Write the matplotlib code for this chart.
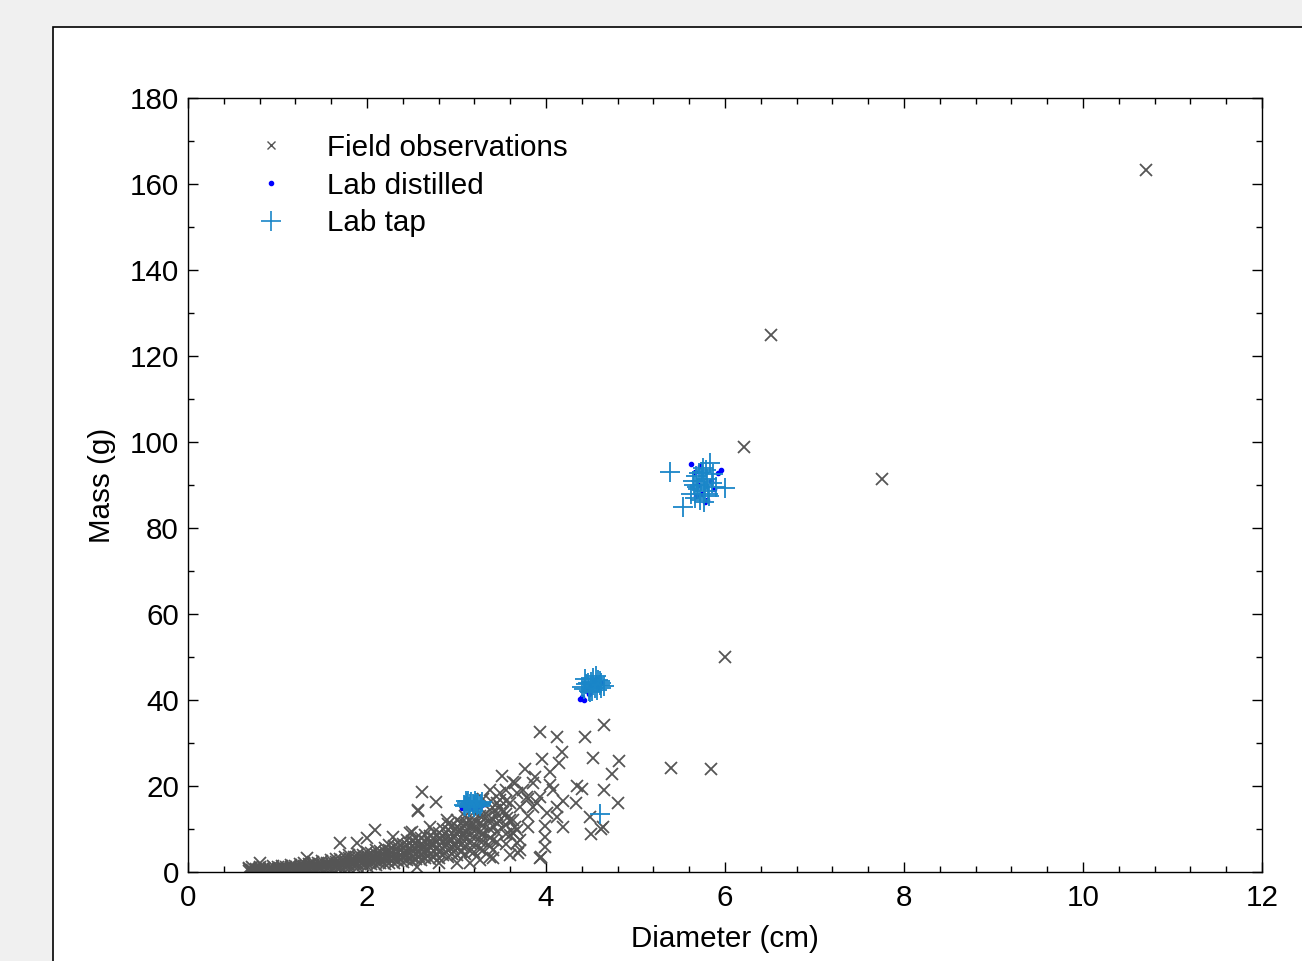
import matplotlib
matplotlib.use("Agg")
import matplotlib.pyplot as plt
from matplotlib.lines import Line2D
from matplotlib.patches import Rectangle
from matplotlib.ticker import MultipleLocator

plt.rcParams['font.family'] = ['Liberation Sans', 'DejaVu Sans']

# field observations: diameter (cm), mass (g)
field_d = [0.68, 0.68, 0.68, 0.72, 0.72, 0.72, 0.76, 0.76, 0.80, 0.80, 0.80, 0.80,
           0.85, 0.85, 0.90, 0.90, 0.90, 0.95, 0.95, 0.95, 1.00, 1.00, 1.00,
           1.05, 1.05, 1.05, 1.10, 1.10, 1.10, 1.15, 1.15, 1.15, 1.20, 1.20, 1.20,
           1.25, 1.25, 1.25, 1.30, 1.30, 1.30, 1.30, 1.33, 1.35, 1.35, 1.35,
           1.40, 1.40, 1.40, 1.40, 1.45, 1.45, 1.45, 1.50, 1.50, 1.50, 1.50,
           1.55, 1.55, 1.55, 1.60, 1.60, 1.60, 1.60, 1.65, 1.65, 1.65, 1.65,
           1.70, 1.70, 1.70, 1.70, 1.70, 1.75, 1.75, 1.75, 1.75,
           1.80, 1.80, 1.80, 1.80, 1.80, 1.85, 1.85, 1.85, 1.85, 1.89,
           1.90, 1.90, 1.90, 1.90, 1.90, 1.95, 1.95, 1.95, 1.95,
           2.00, 2.00, 2.00, 2.00, 2.00, 2.00, 2.05, 2.05, 2.05, 2.05, 2.09,
           2.10, 2.10, 2.10, 2.10, 2.10, 2.15, 2.15, 2.15, 2.15,
           2.20, 2.20, 2.20, 2.20, 2.20, 2.25, 2.25, 2.25, 2.25, 2.25, 2.29,
           2.30, 2.30, 2.30, 2.30, 2.30, 2.35, 2.35, 2.35, 2.35, 2.35,
           2.40, 2.40, 2.40, 2.40, 2.40, 2.45, 2.45, 2.45, 2.45, 2.45, 2.48,
           2.50, 2.50, 2.50, 2.50, 2.50, 2.50, 2.55, 2.55, 2.55, 2.55, 2.55,
           2.57, 2.57, 2.56, 2.60, 2.60, 2.60, 2.60, 2.60, 2.61,
           2.65, 2.65, 2.65, 2.65, 2.65, 2.70, 2.70, 2.70, 2.70, 2.70, 2.70,
           2.75, 2.75, 2.75, 2.75, 2.75, 2.77, 2.80, 2.80, 2.80, 2.80, 2.80, 2.80,
           2.85, 2.85, 2.85, 2.85, 2.85, 2.89, 2.90, 2.90, 2.90, 2.90, 2.90, 2.90,
           2.95, 2.95, 2.95, 2.95, 2.95, 3.00, 3.00, 3.00, 3.00, 3.00, 3.00, 3.00,
           3.05, 3.05, 3.05, 3.05, 3.05, 3.10, 3.10, 3.10, 3.10, 3.10, 3.10,
           3.15, 3.15, 3.15, 3.15, 3.15, 3.15, 3.20, 3.20, 3.20, 3.20, 3.20, 3.20,
           3.26, 3.26, 3.26, 3.26, 3.26, 3.26, 3.26, 3.30, 3.30, 3.30, 3.30, 3.30, 3.30,
           3.37, 3.37, 3.37, 3.37, 3.37, 3.37, 3.37, 3.41, 3.41, 3.41, 3.41, 3.43,
           3.45, 3.45, 3.45, 3.45, 3.45, 3.49, 3.49, 3.49, 3.51,
           3.55, 3.55, 3.55, 3.55, 3.55, 3.55, 3.56, 3.60, 3.60, 3.60, 3.60,
           3.63, 3.63, 3.63, 3.65, 3.65, 3.68, 3.68, 3.68, 3.69, 3.71, 3.71, 3.71,
           3.74, 3.77, 3.79, 3.80, 3.80, 3.80, 3.85, 3.85, 3.88, 3.90,
           3.93, 3.93, 3.93, 3.94, 3.96, 3.99, 3.99, 3.99, 4.01,
           4.04, 4.04, 4.08, 4.12, 4.12, 4.12, 4.15, 4.18, 4.19, 4.19,
           4.34, 4.35, 4.40, 4.44, 4.49, 4.50, 4.52, 4.61, 4.64, 4.65, 4.65,
           4.74, 4.80, 4.82,
           2.42, 2.52, 2.62, 2.72, 2.82, 2.92, 3.02, 3.12, 3.22, 3.32, 3.42,
           3.52, 2.58, 2.68, 2.78, 2.88, 2.98, 3.08, 3.18, 3.28, 3.38, 3.48,
           5.40, 5.84, 6.00, 6.21, 6.51, 7.75, 10.70]
field_m = [0.3, 0.6, 0.9, 0.2, 0.5, 1.1, 0.4, 0.8, 0.3, 0.7, 1.2, 2.0,
           0.5, 0.9, 0.2, 0.6, 1.0, 0.4, 0.8, 1.3, 0.3, 0.7, 1.1,
           0.5, 1.0, 1.5, 0.2, 0.8, 1.2, 0.6, 1.1, 1.6, 0.4, 0.9, 1.4,
           0.7, 1.2, 1.8, 0.5, 1.0, 1.5, 2.1, 3.3, 0.8, 1.3, 1.9,
           0.6, 1.1, 1.7, 2.3, 0.9, 1.5, 2.0, 0.7, 1.3, 1.8, 2.5,
           1.0, 1.6, 2.2, 0.8, 1.4, 2.0, 2.8, 1.1, 1.7, 2.4, 3.1,
           0.9, 1.5, 2.2, 3.0, 6.7, 1.2, 1.9, 2.6, 3.4,
           1.0, 1.7, 2.4, 3.2, 4.0, 1.4, 2.1, 2.9, 3.6, 6.7,
           1.2, 1.9, 2.7, 3.5, 4.3, 1.6, 2.4, 3.2, 4.0,
           1.4, 2.2, 3.0, 3.8, 4.7, 7.9, 1.8, 2.6, 3.5, 4.4, 9.8,
           1.6, 2.5, 3.3, 4.2, 5.1, 2.0, 2.9, 3.8, 4.8,
           1.8, 2.7, 3.6, 4.6, 5.6, 2.2, 3.2, 4.1, 5.2, 6.3, 8.1,
           2.0, 3.0, 4.0, 5.0, 6.0, 2.5, 3.5, 4.6, 5.7, 6.8,
           2.3, 3.3, 4.4, 5.5, 6.6, 2.8, 3.9, 5.0, 6.2, 7.4, 9.1,
           2.5, 3.6, 4.8, 6.0, 7.2, 9.3, 3.0, 4.2, 5.4, 6.7, 8.0,
           14.4, 14.2, 1.2, 2.8, 4.0, 5.3, 6.5, 7.8, 18.6,
           3.3, 4.6, 5.9, 7.2, 8.6, 3.0, 4.3, 5.7, 7.0, 8.4, 10.5,
           3.6, 5.0, 6.4, 7.8, 9.2, 16.3, 2.1, 3.3, 4.7, 6.2, 7.6, 9.1,
           3.9, 5.4, 6.9, 8.4, 10.0, 12.1, 3.6, 5.1, 6.7, 8.2, 9.8, 11.2,
           4.2, 5.8, 7.4, 9.0, 10.6, 2.1, 4.0, 5.6, 7.2, 8.8, 10.4, 12.0,
           4.6, 6.3, 8.0, 9.7, 11.4, 4.3, 6.0, 7.8, 9.5, 11.2, 13.0,
           2.1, 5.0, 6.8, 8.6, 10.4, 12.2, 4.7, 6.5, 8.4, 10.2, 12.1, 14.0,
           2.8, 5.4, 7.3, 9.2, 11.1, 13.1, 15.0, 5.1, 7.1, 9.0, 11.0, 13.0, 17.0,
           19.1, 3.5, 6.0, 8.0, 10.0, 12.0, 14.5, 3.3, 5.1, 7.4, 12.1, 14.4,
           7.0, 9.2, 11.4, 13.6, 16.0, 15.1, 16.7, 18.4, 22.3,
           6.5, 8.8, 11.0, 13.5, 16.5, 19.0, 12.6, 4.0, 8.6, 12.1, 16.0,
           9.1, 12.1, 20.9, 10.5, 20.7, 6.7, 9.8, 18.4, 4.4, 5.1, 7.4, 15.1,
           19.1, 24.0, 17.4, 10.5, 13.0, 17.0, 15.1, 20.7, 22.1, 16.0,
           3.3, 17.4, 32.6, 3.5, 26.3, 5.8, 8.1, 10.7, 13.7,
           20.2, 23.3, 19.1, 12.8, 15.1, 31.4, 25.3, 27.9, 10.5, 16.5,
           16.0, 20.0, 19.3, 31.4, 12.8, 8.8, 26.5, 10.0, 10.5, 19.1, 34.2,
           22.8, 16.0, 25.8,
           4.0, 5.5, 6.0, 6.5, 8.0, 7.5, 9.5, 11.5, 9.8, 12.5, 10.5,
           14.0, 3.8, 4.9, 5.5, 6.5, 6.0, 8.5, 11.0, 8.5, 16.5, 11.8,
           24.2, 24.0, 50.0, 98.8, 124.9, 91.4, 163.3]

# lab runs, distilled water
dist_d = [3.06, 3.10, 3.14, 3.18, 3.22, 3.26, 3.12, 3.20, 3.28,
          4.38, 4.40, 4.42, 4.46, 4.50, 4.54, 4.58, 4.62, 4.48, 4.56,
          5.62, 5.66, 5.70, 5.74, 5.78, 5.80, 5.84, 5.88, 5.92, 5.95, 5.72, 5.68]
dist_m = [15.0, 14.8, 15.2, 14.9, 15.1, 15.3, 16.0, 15.8, 15.5,
          40.2, 40.6, 40.0, 42.0, 43.5, 44.5, 43.0, 44.0, 41.5, 45.0,
          95.0, 93.0, 90.0, 88.0, 86.0, 86.5, 91.0, 89.0, 92.8, 93.5, 94.5, 87.5]

# lab runs, tap water
tap_d = [3.08, 3.10, 3.12, 3.14, 3.16, 3.18, 3.20, 3.22, 3.24, 3.26, 3.28,
         3.11, 3.15, 3.19, 3.23, 3.27, 3.13, 3.21,
         4.40, 4.42, 4.45, 4.48, 4.50, 4.52, 4.55, 4.58, 4.60, 4.62, 4.65,
         4.44, 4.49, 4.53, 4.57, 4.61, 4.47, 4.56, 4.51, 4.60,
         5.39, 5.53, 5.62, 5.64, 5.66, 5.68, 5.70, 5.72, 5.74, 5.76, 5.78,
         5.80, 5.82, 5.83, 5.85, 5.87, 5.90, 5.65, 5.71, 5.77, 5.69, 5.75,
         5.81, 5.73, 5.79, 6.00, 4.60]
tap_m = [15.6, 15.4, 16.0, 15.2, 16.3, 15.8, 15.5, 16.1, 15.7, 15.3, 16.2,
         16.5, 15.9, 15.1, 15.6, 15.9, 16.4, 16.6,
         43.0, 42.5, 43.8, 42.0, 44.2, 43.4, 42.8, 44.6, 43.6, 44.0, 43.2,
         44.8, 41.8, 45.2, 42.4, 42.9, 43.9, 45.5, 42.2, 44.4,
         93.0, 84.9, 88.0, 91.0, 87.0, 92.0, 89.0, 86.5, 93.0, 90.0, 88.5,
         91.5, 87.5, 95.1, 90.5, 92.5, 89.5, 90.0, 92.8, 86.0, 89.5, 94.0,
         88.0, 91.0, 93.5, 89.3, 13.5]

grey = '#555555'
tap_col = '#1a86c8'
fs = 21.3

fig = plt.figure(figsize=(13.02, 9.61), dpi=100)
fig.patch.set_facecolor('#f0f0f0')
panel = Rectangle((53 / 1302, -0.1), 1.2, 1 - 27 / 961 + 0.1,
                  transform=fig.transFigure, facecolor='white',
                  edgecolor='black', linewidth=1.2, zorder=-10)
fig.add_artist(panel)

ax = fig.add_axes([188 / 1302, 1 - 872 / 961, 1074 / 1302, 774 / 961])
ax.set_zorder(1)
ax.plot(field_d, field_m, 'x', color=grey, markersize=9, markeredgewidth=1.3,
        linestyle='none')
ax.plot(dist_d, dist_m, '.', color='blue', markersize=6, linestyle='none')
ax.plot(tap_d, tap_m, '+', color=tap_col, markersize=15, markeredgewidth=1.3,
        linestyle='none')

ax.set_xlim(0, 12)
ax.set_ylim(0, 180)
ax.xaxis.set_major_locator(MultipleLocator(2))
ax.xaxis.set_minor_locator(MultipleLocator(0.4))
ax.yaxis.set_major_locator(MultipleLocator(20))
ax.yaxis.set_minor_locator(MultipleLocator(10))
ax.tick_params(which='both', direction='in', top=True, right=True, labelsize=fs)
ax.tick_params(which='major', length=7, width=1)
ax.tick_params(which='minor', length=4, width=1)
ax.tick_params(axis='x', which='major', pad=9)
ax.tick_params(axis='y', which='major', pad=6.5)
for s in ax.spines.values():
    s.set_linewidth(1)

ax.set_xlabel('Diameter (cm)', fontsize=fs, labelpad=9)
ax.set_ylabel('Mass (g)', fontsize=fs, labelpad=10)

handles = [
    Line2D([], [], marker='x', color=grey, markersize=6, markeredgewidth=1, linestyle='none'),
    Line2D([], [], marker='.', color='blue', markersize=6, linestyle='none'),
    Line2D([], [], marker='+', color=tap_col, markersize=14, markeredgewidth=1.2, linestyle='none'),
]
ax.legend(handles, ['Field observations', 'Lab distilled', 'Lab tap'],
          loc='upper left', bbox_to_anchor=(0.036, 0.969), frameon=False,
          fontsize=fs, labelspacing=0.33, handlelength=2.2, handletextpad=0.8,
          borderaxespad=0)

fig.savefig('out.png', dpi=100, facecolor=fig.get_facecolor())
